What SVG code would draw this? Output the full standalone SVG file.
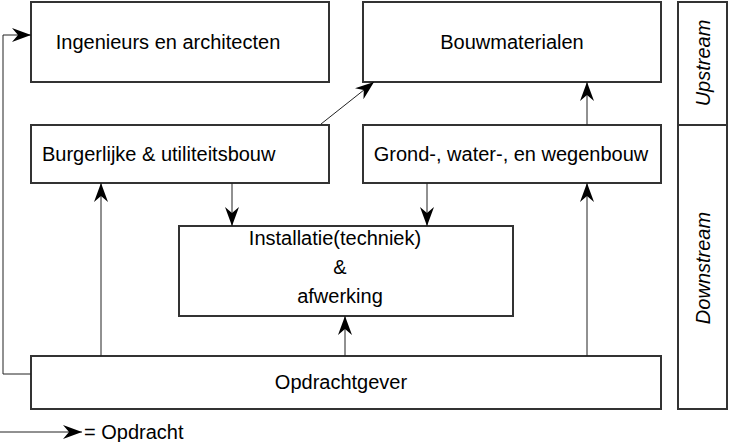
<svg xmlns="http://www.w3.org/2000/svg" width="729" height="442" viewBox="0 0 729 442">
<style>
.box{fill:#fff;stroke:#333;stroke-width:2}
.t{font-family:"Liberation Sans",Arial,sans-serif;font-size:20px;fill:#000}
.c{text-anchor:middle}
.ln{fill:none;stroke:#222;stroke-width:1}
.it{font-style:italic}
</style>
<defs>
<marker id="ah" viewBox="0 0 19 14" refX="19" refY="7" markerWidth="19" markerHeight="14" markerUnits="userSpaceOnUse" orient="auto">
<path d="M0,0 L19,7 L0,14 L6,7 Z" fill="#000"/>
</marker>
</defs>
<rect x="0" y="0" width="729" height="442" fill="#fff"/>
<g id="n-ingenieurs"><rect class="box" x="31" y="2" width="298" height="80"/><text class="t c" x="168" y="49">Ingenieurs en architecten</text></g>
<g id="n-bouwmaterialen"><rect class="box" x="363" y="2" width="298" height="80"/><text class="t c" x="512" y="49">Bouwmaterialen</text></g>
<g id="n-burgerlijke"><rect class="box" x="31" y="125" width="298" height="58"/><text class="t" x="42" y="161">Burgerlijke &amp; utiliteitsbouw</text></g>
<g id="n-grond"><rect class="box" x="363" y="125" width="298" height="58"/><text class="t c" x="511" y="161">Grond-, water-, en wegenbouw</text></g>
<g id="n-installatie"><rect class="box" x="179" y="226" width="334" height="90"/><text class="t c" x="335" y="245">Installatie(techniek)</text><text class="t c" x="340" y="274">&amp;</text><text class="t c" x="340" y="303">afwerking</text></g>
<g id="n-opdrachtgever"><rect class="box" x="31" y="356" width="630" height="53"/><text class="t c" x="341" y="389">Opdrachtgever</text></g>
<g id="n-stream"><rect class="box" x="678" y="2" width="49" height="407"/><line x1="678" y1="125" x2="727" y2="125" stroke="#333" stroke-width="2"/><text class="t c it" transform="translate(710,63) rotate(-90)">Upstream</text><text class="t c it" transform="translate(710,268) rotate(-90)">Downstream</text></g>
<g id="connectors">
<polyline class="ln" points="31,374 3,374 3,35 31,35" marker-end="url(#ah)"/>
<line class="ln" x1="101" y1="356" x2="101" y2="183" marker-end="url(#ah)"/>
<line class="ln" x1="345" y1="356" x2="345" y2="316" marker-end="url(#ah)"/>
<line class="ln" x1="587" y1="356" x2="587" y2="183" marker-end="url(#ah)"/>
<line class="ln" x1="232" y1="183" x2="232" y2="226" marker-end="url(#ah)"/>
<line class="ln" x1="427" y1="183" x2="427" y2="226" marker-end="url(#ah)"/>
<line class="ln" x1="321" y1="124" x2="374" y2="82" marker-end="url(#ah)"/>
<line class="ln" x1="587" y1="125" x2="587" y2="82" marker-end="url(#ah)"/>
<line class="ln" x1="0" y1="432" x2="82" y2="432" marker-end="url(#ah)"/>
</g>
<text class="t" x="84" y="439">= Opdracht</text>
</svg>
